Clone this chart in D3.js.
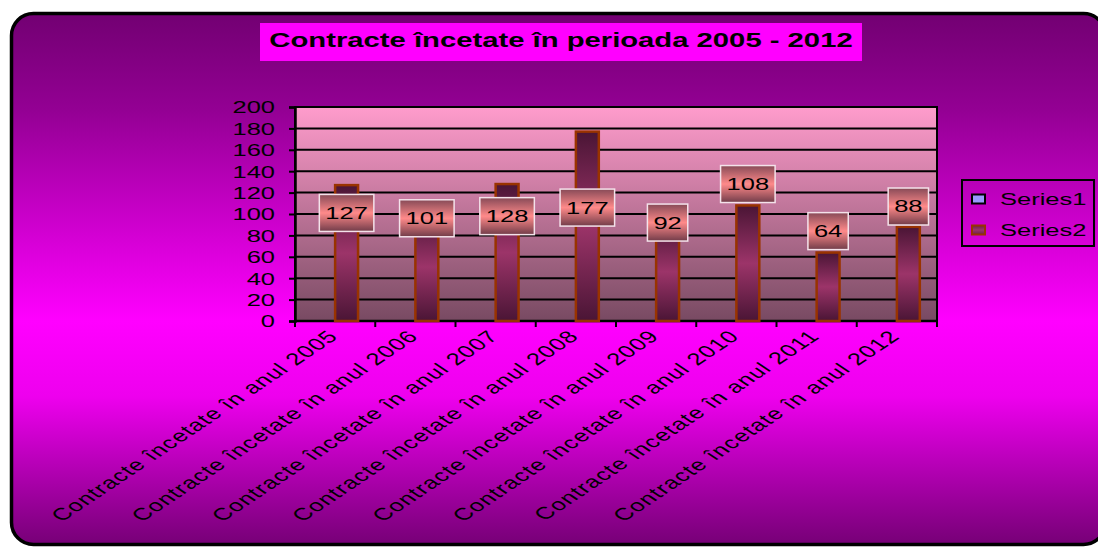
<!DOCTYPE html>
<html>
<head>
<meta charset="utf-8">
<script src="https://cdn.jsdelivr.net/npm/d3@7"></script>
<style>
  body { margin: 0; background: #ffffff; }
  svg { display: block; }
  text { font-family: "Liberation Sans", Arial, Helvetica, sans-serif; fill: #000; }
</style>
</head>
<body>
<svg id="chart" width="1098" height="549"></svg>
<script>
// ---- data ----
const chartTitle = "Contracte încetate în perioada 2005 - 2012";
const categories = [
  "Contracte încetate în anul 2005",
  "Contracte încetate în anul 2006",
  "Contracte încetate în anul 2007",
  "Contracte încetate în anul 2008",
  "Contracte încetate în anul 2009",
  "Contracte încetate în anul 2010",
  "Contracte încetate în anul 2011",
  "Contracte încetate în anul 2012"
];
const seriesNames = ["Series1", "Series2"];
const series1 = [null, null, null, null, null, null, null, null];
const series2 = [127, 101, 128, 177, 92, 108, 64, 88];
const yTickValues = [0, 20, 40, 60, 80, 100, 120, 140, 160, 180, 200];

// ---- layout ----
const svg = d3.select("#chart");
const W = 1098, H = 549;
const plot = { left: 295, top: 107, right: 937, bottom: 321 };
const SX = 1.5;                 // lettering is drawn widened horizontally
const FONT = 17;
// data labels were moved off their default spot; shift in value units
const labelShift = [-26, -5, -30, -71, 0, 20, 20, 19];

const defs = svg.append("defs");

function vGrad(id, stops, units) {
  const g = defs.append("linearGradient").attr("id", id)
    .attr("x1", 0).attr("y1", 0).attr("x2", 0).attr("y2", 1);
  if (units) g.attr("gradientUnits", units.u)
    .attr("x1", 0).attr("x2", 0).attr("y1", units.y1).attr("y2", units.y2);
  stops.forEach(([o, c]) => g.append("stop").attr("offset", o).attr("stop-color", c));
}
vGrad("bgGrad", [[0, "#720072"], [0.18, "#930093"], [0.58, "#ff00ff"], [0.72, "#ee00ee"], [1, "#760076"]],
  { u: "userSpaceOnUse", y1: 13, y2: 545 });
vGrad("plotGrad", [[0, "#ff9ccc"], [1, "#784a62"]]);
vGrad("barGrad", [[0, "#4a1535"], [0.5, "#9c3469"], [1, "#4a1535"]]);
vGrad("labelGrad", [[0, "#874a57"], [0.5, "#ff8a8a"], [1, "#713c49"]]);
vGrad("legGrad", [[0, "#6a2048"], [0.5, "#9c3469"], [1, "#6a2048"]]);

// outer rounded frame (runs past the right edge of the page)
svg.append("rect")
  .attr("x", 11.5).attr("y", 13.5)
  .attr("width", 1094).attr("height", 531)
  .attr("rx", 22).attr("ry", 22)
  .attr("fill", "url(#bgGrad)")
  .attr("stroke", "#000").attr("stroke-width", 3.5);

// title
svg.append("rect")
  .attr("x", 260).attr("y", 23).attr("width", 602).attr("height", 38)
  .attr("fill", "#ff00ff");
svg.append("text")
  .attr("transform", `translate(561,47) scale(${SX},1)`)
  .attr("text-anchor", "middle")
  .attr("font-size", 19.5).attr("font-weight", "bold")
  .text(chartTitle);

// scales
const x0 = d3.scaleBand().domain(categories).range([plot.left, plot.right]).padding(0);
const x1 = d3.scaleBand().domain(seriesNames).range([0, x0.bandwidth()])
  .paddingInner(0).paddingOuter(0.75);
const y = d3.scaleLinear().domain([0, 200]).range([plot.bottom, plot.top]);

// plot area
svg.append("rect")
  .attr("x", plot.left).attr("y", plot.top)
  .attr("width", plot.right - plot.left).attr("height", plot.bottom - plot.top)
  .attr("fill", "url(#plotGrad)");

// gridlines
svg.append("g").selectAll("line")
  .data(yTickValues.filter(v => v > 0 && v < 200))
  .join("line")
  .attr("x1", plot.left).attr("x2", plot.right)
  .attr("y1", d => y(d)).attr("y2", d => y(d))
  .attr("stroke", "#000").attr("stroke-width", 2);

// plot border
svg.append("rect")
  .attr("x", plot.left).attr("y", plot.top)
  .attr("width", plot.right - plot.left).attr("height", plot.bottom - plot.top)
  .attr("fill", "none").attr("stroke", "#000").attr("stroke-width", 2);

// y axis
const yAxis = svg.append("g")
  .attr("transform", `translate(${plot.left},0)`)
  .call(d3.axisLeft(y).tickValues(yTickValues).tickSize(6).tickPadding(0).tickFormat(d3.format("d")));
yAxis.select(".domain").attr("stroke", "#000").attr("stroke-width", 2.5);
yAxis.selectAll(".tick line").attr("stroke", "#000").attr("stroke-width", 2);
yAxis.selectAll(".tick text")
  .attr("x", null).attr("dy", null)
  .attr("transform", `translate(-20,0) scale(${SX},1)`)
  .attr("dy", "0.35em")
  .attr("font-size", FONT)
  .attr("font-family", null)
  .attr("fill", "#000");

// x axis line + ticks between categories
const xBounds = categories.map(c => x0(c)).concat([x0.range()[1]]);
svg.append("line")
  .attr("x1", plot.left - 1).attr("x2", plot.right + 1)
  .attr("y1", plot.bottom).attr("y2", plot.bottom)
  .attr("stroke", "#000").attr("stroke-width", 2.5);
svg.append("g").selectAll("line").data(xBounds).join("line")
  .attr("x1", d => d).attr("x2", d => d)
  .attr("y1", plot.bottom).attr("y2", plot.bottom + 6)
  .attr("stroke", "#000").attr("stroke-width", 2);

// bars
const rows = categories.map((c, i) => ({ cat: c, i, vals: [series1[i], series2[i]] }));
const barG = svg.append("g");
rows.forEach(r => {
  r.vals.forEach((v, si) => {
    if (v == null) return;
    const bx = x0(r.cat) + x1(seriesNames[si]);
    barG.append("rect")
      .attr("x", bx).attr("y", y(v))
      .attr("width", x1.bandwidth()).attr("height", y(0) - y(v))
      .attr("fill", si === 1 ? "url(#barGrad)" : "#9999ff")
      .attr("stroke", si === 1 ? "#993300" : "#000")
      .attr("stroke-width", 2.5);
  });
});

// data labels for Series2
const labG = svg.append("g");
series2.forEach((v, i) => {
  const cx = x0(categories[i]) + x1("Series2") + x1.bandwidth() / 2;
  const cy = y(v + labelShift[i]);
  const g = labG.append("g").attr("transform", `translate(${cx},${cy})`);
  const box = g.append("rect");
  const t = g.append("text")
    .attr("transform", `scale(${SX},1)`)
    .attr("text-anchor", "middle").attr("dy", "0.35em")
    .attr("font-size", FONT)
    .text(v);
  const tw = t.node().getComputedTextLength() * SX;
  const bw = tw + 12, bh = 37;
  box.attr("x", -bw / 2).attr("y", -bh / 2).attr("width", bw).attr("height", bh)
    .attr("fill", "url(#labelGrad)")
    .attr("stroke", "#f4e2ea").attr("stroke-width", 1.5);
});

// category labels (rotated)
svg.append("g").selectAll("text").data(categories).join("text")
  .attr("transform", d => `translate(${x0(d) + x0.bandwidth() / 2 - 2},${plot.bottom + 12}) scale(${SX},1) rotate(-45)`)
  .attr("text-anchor", "end").attr("dy", "0.35em")
  .attr("font-size", FONT).attr("letter-spacing", 0.8)
  .text(d => d);

// legend
const leg = svg.append("g");
leg.append("rect")
  .attr("x", 962).attr("y", 180).attr("width", 132).attr("height", 66)
  .attr("fill", "none").attr("stroke", "#000").attr("stroke-width", 2);
const legItems = [
  { name: seriesNames[0], fill: "#9999ff", stroke: "#000", y: 199 },
  { name: seriesNames[1], fill: "url(#legGrad)", stroke: "#993300", y: 230 }
];
legItems.forEach(it => {
  leg.append("rect")
    .attr("x", 972).attr("y", it.y - 4.5).attr("width", 13).attr("height", 9)
    .attr("fill", it.fill).attr("stroke", it.stroke).attr("stroke-width", 2);
  leg.append("text")
    .attr("transform", `translate(1000,${it.y}) scale(${SX},1)`)
    .attr("dy", "0.35em").attr("font-size", FONT)
    .text(it.name);
});
</script>
</body>
</html>
